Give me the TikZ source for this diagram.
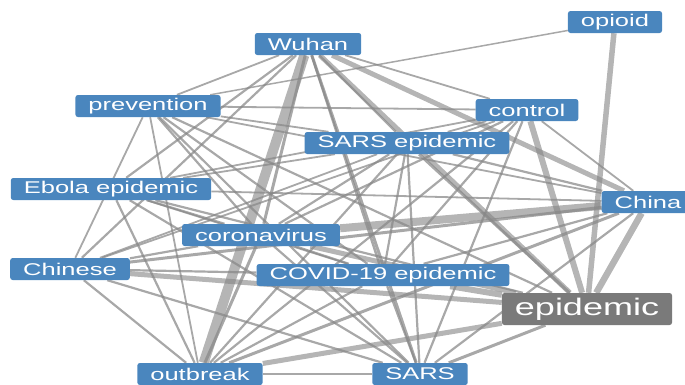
\documentclass[tikz,border=0pt]{standalone}
\usepackage{fontspec}
\usepackage{xcolor}
\usetikzlibrary{backgrounds}
\newfontfamily\wordfont{Liberation Sans}[FakeStretch=1.5]
\definecolor{wordblue}{RGB}{74,134,190}
\definecolor{wordgray}{RGB}{122,122,122}
\definecolor{linkgray}{RGB}{135,135,135}

\begin{document}
\begin{tikzpicture}[x=1pt,y=-1pt,
    word/.style={fill=wordblue, text=white, rounded corners=2.5pt, inner xsep=13pt, inner ysep=0pt,
        minimum height=22pt, font=\wordfont\fontsize{17}{17}\selectfont},
    mainword/.style={word, fill=wordgray, minimum height=32pt, font=\wordfont\fontsize{24}{24}\selectfont},
    link/.style={draw=linkgray, draw opacity=0.72},
    heavylink/.style={draw=linkgray, draw opacity=0.62}]
            \useasboundingbox (0,0) rectangle (685,384);

            %Nodes
            \node[word] at (308,44) (W) {Wuhan};
            \node[word] at (615,22) (O) {opioid};
            \node[word] at (148,106) (P) {prevention};
            \node[word] at (527,110) (C) {control};
            \node[word] at (407,143) (SE) {SARS epidemic};
            \node[word] at (111,189) (E) {Ebola epidemic};
            \node[word] at (648,202) (CN) {China};
            \node[word] at (261,235) (CV) {coronavirus};
            \node[word] at (70,269) (CH) {Chinese};
            \node[word] at (383,275) (CD) {COVID-19 epidemic};
            \node[mainword] at (587,309) (EP) {epidemic};
            \node[word] at (200,374) (OB) {outbreak};
            \node[word] at (420,374) (S) {SARS};

            %Lines
            \begin{pgfonlayer}{background}
            \foreach \a/\b/\w in {W/P/1.8, W/E/2.2, W/CH/2.2, W/CV/3, W/SE/2.2, W/C/1.8,
                W/CD/2.5, W/S/3, P/O/1.5, P/C/1.8, P/SE/1.8, P/CH/1.8, P/OB/1.8,
                P/CV/2.2, P/CD/2.2, P/S/2.2, P/EP/2.2, P/CN/1.8,
                C/SE/1.8, C/CN/1.8, C/CV/2.2, C/CD/2.2, C/CH/1.8, C/OB/2.2, C/S/2.2, C/E/1.8,
                SE/CN/2.2, SE/EP/3, SE/CV/2.2, SE/CD/2.2, SE/CH/1.8, SE/OB/2.2, SE/S/2.2, SE/E/1.8,
                E/CV/2.2, E/CD/1.8, E/OB/2.2, E/S/2.2, E/EP/2.2, E/CN/1.8,
                CN/CH/3, CN/CD/2.2, CN/OB/3, CN/S/2.2,
                CV/CH/2.2, CV/CD/2.2, CV/OB/3, CV/S/2.2,
                CH/CD/2.2, CH/OB/2.2, CH/S/2.2,
                CD/OB/2.2, CD/S/2.2, EP/S/3, OB/S/2}
                \draw[link, line width=\w pt] (\a) -- (\b);
            \foreach \a/\b/\w in {W/OB/10, W/CN/5, W/EP/5, O/EP/5.5, C/EP/6, CN/CV/8, CN/EP/6.5,
                CV/EP/5, CH/EP/5, CD/EP/6, EP/OB/5}
                \draw[heavylink, line width=\w pt] (\a) -- (\b);
            \end{pgfonlayer}
\end{tikzpicture}
\end{document}
